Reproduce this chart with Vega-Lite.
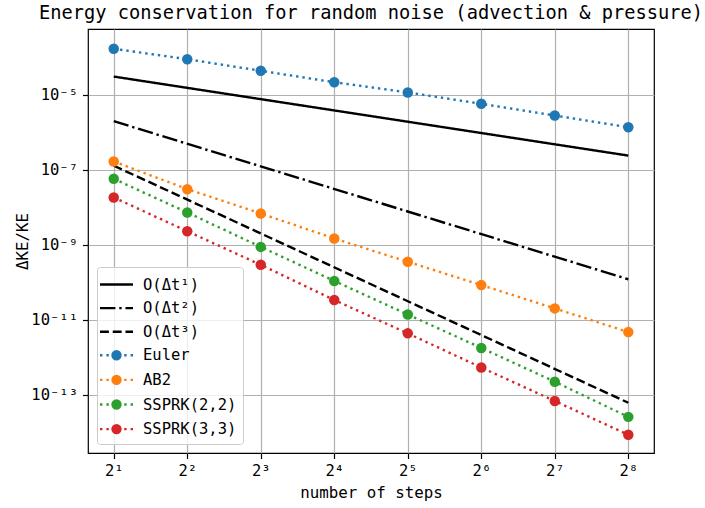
{
  "$schema": "https://vega.github.io/schema/vega-lite/v6.json",
  "width": 566,
  "height": 424,
  "autosize": {"type": "none"},
  "padding": {"left": 88, "top": 29, "right": 51, "bottom": 55},
  "background": "white",
  "title": {
    "text": "Energy conservation for random noise (advection & pressure)",
    "font": "DejaVu Sans Mono",
    "fontSize": 18.7,
    "fontWeight": "normal",
    "color": "#000000",
    "offset": 6
  },
  "data": {
    "values": [
      {"series": "O(Δt¹)", "n": 2, "value": 3.1e-5},
      {"series": "O(Δt¹)", "n": 256, "value": 2.42e-7},
      {"series": "O(Δt²)", "n": 2, "value": 2.0e-6},
      {"series": "O(Δt²)", "n": 256, "value": 1.22e-10},
      {"series": "O(Δt³)", "n": 2, "value": 1.3e-7},
      {"series": "O(Δt³)", "n": 256, "value": 6.2e-14},
      {"series": "Euler", "n": 2, "value": 1.71e-4},
      {"series": "Euler", "n": 4, "value": 9.0e-5},
      {"series": "Euler", "n": 8, "value": 4.42e-5},
      {"series": "Euler", "n": 16, "value": 2.19e-5},
      {"series": "Euler", "n": 32, "value": 1.17e-5},
      {"series": "Euler", "n": 64, "value": 5.82e-6},
      {"series": "Euler", "n": 128, "value": 2.84e-6},
      {"series": "Euler", "n": 256, "value": 1.38e-6},
      {"series": "AB2", "n": 2, "value": 1.69e-7},
      {"series": "AB2", "n": 4, "value": 3.08e-8},
      {"series": "AB2", "n": 8, "value": 6.92e-9},
      {"series": "AB2", "n": 16, "value": 1.49e-9},
      {"series": "AB2", "n": 32, "value": 3.56e-10},
      {"series": "AB2", "n": 64, "value": 8.53e-11},
      {"series": "AB2", "n": 128, "value": 2.04e-11},
      {"series": "AB2", "n": 256, "value": 4.76e-12},
      {"series": "SSPRK(2,2)", "n": 2, "value": 5.82e-8},
      {"series": "SSPRK(2,2)", "n": 4, "value": 7.36e-9},
      {"series": "SSPRK(2,2)", "n": 8, "value": 8.9e-10},
      {"series": "SSPRK(2,2)", "n": 16, "value": 1.1e-10},
      {"series": "SSPRK(2,2)", "n": 32, "value": 1.4e-11},
      {"series": "SSPRK(2,2)", "n": 64, "value": 1.8e-12},
      {"series": "SSPRK(2,2)", "n": 128, "value": 2.26e-13},
      {"series": "SSPRK(2,2)", "n": 256, "value": 2.61e-14},
      {"series": "SSPRK(3,3)", "n": 2, "value": 1.85e-8},
      {"series": "SSPRK(3,3)", "n": 4, "value": 2.33e-9},
      {"series": "SSPRK(3,3)", "n": 8, "value": 2.96e-10},
      {"series": "SSPRK(3,3)", "n": 16, "value": 3.41e-11},
      {"series": "SSPRK(3,3)", "n": 32, "value": 4.4e-12},
      {"series": "SSPRK(3,3)", "n": 64, "value": 5.41e-13},
      {"series": "SSPRK(3,3)", "n": 128, "value": 6.92e-14},
      {"series": "SSPRK(3,3)", "n": 256, "value": 8.69e-15}
    ]
  },
  "encoding": {
    "x": {
      "field": "n",
      "type": "quantitative",
      "scale": {"type": "log", "base": 2, "domain": [1.569, 326.2], "nice": false},
      "axis": {
        "title": "number of steps",
        "values": [2, 4, 8, 16, 32, 64, 128, 256],
        "labelExpr": "'2' + ['⁰','¹','²','³','⁴','⁵','⁶','⁷','⁸','⁹'][round(log(datum.value)/LN2)]",
        "labelPadding": 5,
        "titlePadding": 6
      }
    },
    "y": {
      "field": "value",
      "type": "quantitative",
      "scale": {"type": "log", "domain": [2.84e-15, 5.75e-4], "nice": false},
      "axis": {
        "title": "ΔKE/KE",
        "values": [1e-13, 1e-11, 1e-9, 1e-7, 1e-5],
        "labelExpr": "'10⁻' + (round(-log(datum.value)/LN10) == 5 ? '⁵' : round(-log(datum.value)/LN10) == 7 ? '⁷' : round(-log(datum.value)/LN10) == 9 ? '⁹' : round(-log(datum.value)/LN10) == 11 ? '¹¹' : '¹³')",
        "labelPadding": 5,
        "titlePadding": 0
      }
    }
  },
  "layer": [
    {
      "mark": {"type": "line", "strokeWidth": 2.4, "strokeCap": "butt"},
      "encoding": {
        "color": {
          "field": "series",
          "type": "nominal",
          "legend": null,
          "scale": {
            "domain": ["SSPRK(3,3)", "SSPRK(2,2)", "AB2", "Euler", "O(Δt³)", "O(Δt²)", "O(Δt¹)"],
            "range": ["#d62728", "#2ca02c", "#ff7f0e", "#1f77b4", "#000000", "#000000", "#000000"]
          }
        },
        "strokeDash": {
          "field": "series",
          "type": "nominal",
          "legend": null,
          "scale": {
            "domain": ["Euler", "AB2", "SSPRK(2,2)", "SSPRK(3,3)", "O(Δt¹)", "O(Δt²)", "O(Δt³)"],
            "range": [[2.4, 3.96], [2.4, 3.96], [2.4, 3.96], [2.4, 3.96], [1, 0], [15.4, 3.84, 2.4, 3.84], [8.9, 3.84]]
          }
        }
      }
    },
    {
      "transform": [{"filter": {"field": "series", "oneOf": ["Euler", "AB2", "SSPRK(2,2)", "SSPRK(3,3)"]}}],
      "mark": {"type": "point", "filled": true, "size": 110, "opacity": 1},
      "encoding": {
        "color": {"field": "series", "type": "nominal", "legend": null}
      }
    },
    {
      "mark": {"type": "point", "filled": false, "opacity": 0, "strokeWidth": 2.4},
      "encoding": {
        "shape": {
          "field": "series",
          "type": "nominal",
          "scale": {
            "domain": ["O(Δt¹)", "O(Δt²)", "O(Δt³)", "Euler", "AB2", "SSPRK(2,2)", "SSPRK(3,3)"],
            "range": [
              "M-1.65,0H1.65",
              "M-1.65,0H-0.11M0.274,0H0.514M0.898,0H1.65",
              "M-1.65,0H-0.76M-0.376,0H0.514M0.898,0H1.65",
              "M-1.65,0H-1.41M-1.01,0H-0.77M0.77,0H1.01M1.41,0H1.65M-0.4,0A0.4,0.4 0 1,0 0.4,0A0.4,0.4 0 1,0 -0.4,0Z",
              "M-1.65,0H-1.41M-1.01,0H-0.77M0.77,0H1.01M1.41,0H1.65M-0.4,0A0.4,0.4 0 1,0 0.4,0A0.4,0.4 0 1,0 -0.4,0Z",
              "M-1.65,0H-1.41M-1.01,0H-0.77M0.77,0H1.01M1.41,0H1.65M-0.4,0A0.4,0.4 0 1,0 0.4,0A0.4,0.4 0 1,0 -0.4,0Z",
              "M-1.65,0H-1.41M-1.01,0H-0.77M0.77,0H1.01M1.41,0H1.65M-0.4,0A0.4,0.4 0 1,0 0.4,0A0.4,0.4 0 1,0 -0.4,0Z"
            ]
          },
          "legend": {"title": null}
        },
        "stroke": {
          "field": "series",
          "type": "nominal",
          "scale": {
            "domain": ["O(Δt¹)", "O(Δt²)", "O(Δt³)", "Euler", "AB2", "SSPRK(2,2)", "SSPRK(3,3)"],
            "range": ["#000000", "#000000", "#000000", "#1f77b4", "#ff7f0e", "#2ca02c", "#d62728"]
          },
          "legend": {"title": null}
        },
        "fill": {
          "field": "series",
          "type": "nominal",
          "scale": {
            "domain": ["O(Δt¹)", "O(Δt²)", "O(Δt³)", "Euler", "AB2", "SSPRK(2,2)", "SSPRK(3,3)"],
            "range": ["#000000", "#000000", "#000000", "#1f77b4", "#ff7f0e", "#2ca02c", "#d62728"]
          },
          "legend": {"title": null}
        }
      }
    }
  ],
  "config": {
    "font": "DejaVu Sans Mono",
    "view": {"stroke": "#000000", "strokeWidth": 1.2},
    "axis": {
      "domain": false,
      "grid": true,
      "gridColor": "#b0b0b0",
      "gridWidth": 1.2,
      "tickColor": "#000000",
      "tickSize": 5.5,
      "tickWidth": 1.2,
      "labelFont": "DejaVu Sans Mono",
      "labelFontSize": 15.5,
      "labelColor": "#000000",
      "titleFont": "DejaVu Sans Mono",
      "titleFontSize": 15.8,
      "titleFontWeight": "normal",
      "titleColor": "#000000"
    },
    "legend": {
      "orient": "bottom-left",
      "offset": 9,
      "padding": 6,
      "fillColor": "rgba(255,255,255,0.8)",
      "strokeColor": "#cccccc",
      "cornerRadius": 3,
      "labelFont": "DejaVu Sans Mono",
      "labelFontSize": 15.5,
      "labelColor": "#000000",
      "symbolSize": 400,
      "symbolStrokeWidth": 2.4,
      "symbolOpacity": 1,
      "symbolOffset": 2,
      "labelOffset": 15,
      "rowPadding": 3.6
    }
  }
}
